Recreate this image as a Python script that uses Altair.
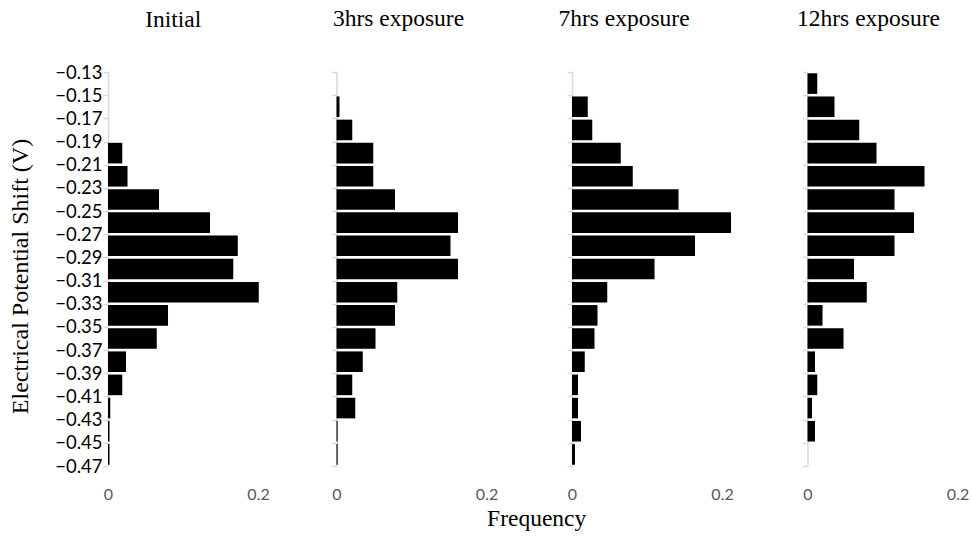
import altair as alt
import pandas as pd

# bin centres (V) of the 17 histogram classes, top to bottom
bin_mid = [-0.14, -0.16, -0.18, -0.20, -0.22, -0.24, -0.26, -0.28, -0.30,
           -0.32, -0.34, -0.36, -0.38, -0.40, -0.42, -0.44, -0.46]
# tick labels on the potential axis (class boundaries)
tick_values = [-0.13, -0.15, -0.17, -0.19, -0.21, -0.23, -0.25, -0.27, -0.29,
               -0.31, -0.33, -0.35, -0.37, -0.39, -0.41, -0.43, -0.45, -0.47]

panel_names = ["Initial", "3hrs exposure", "7hrs exposure", "12hrs exposure"]

freq_initial = [0, 0, 0, 0.019, 0.026, 0.068, 0.136, 0.173, 0.167, 0.201,
                0.080, 0.065, 0.024, 0.019, 0.003, 0.002, 0.002]
freq_3hrs = [0, 0.004, 0.021, 0.049, 0.049, 0.078, 0.162, 0.152, 0.162, 0.081,
             0.078, 0.052, 0.035, 0.021, 0.025, 0.0015, 0.0015]
freq_7hrs = [0, 0.021, 0.027, 0.065, 0.081, 0.142, 0.212, 0.164, 0.110, 0.047,
             0.034, 0.030, 0.017, 0.008, 0.008, 0.012, 0.004]
freq_12hrs = [0.013, 0.036, 0.069, 0.092, 0.156, 0.116, 0.142, 0.116, 0.062,
              0.079, 0.020, 0.048, 0.010, 0.013, 0.006, 0.010, 0]

x_ticks = [0, 0.2]

series = [freq_initial, freq_3hrs, freq_7hrs, freq_12hrs]
x_max = [0.2033, 0.2133, 0.2133, 0.2133]
widths = [152.5, 160, 160, 160]
title_dx = [-11, -18, -28, -19]
title_offset = [32, 41, 41, 41]

SERIF = "Liberation Serif"
SANS = "Lato"
GREY = "#d9d9d9"


def panel(i):
    df = pd.DataFrame({"mid": bin_mid, "freq": series[i]})
    df = df[df["freq"] > 0]
    first = i == 0
    y_axis_kw = dict(
        values=tick_values, format=".2f", grid=False,
        domainColor=GREY, domainWidth=1.5, tickColor=GREY, tickWidth=1.5,
        tickSize=5, labels=first, labelFont=SANS, labelFontSize=18.5,
        labelColor="black", labelPadding=1, labelFlush=False,
        labelOverlap=False,
    )
    if first:
        y_axis_kw.update(
            title="Electrical Potential Shift (V)", titleFont=SERIF,
            titleFontSize=24, titleFontWeight="normal", titleColor="black",
            titlePadding=22, titleY=204,
        )
    else:
        y_axis_kw.update(title=None)
    y_axis = alt.Axis(**y_axis_kw)
    x_axis = alt.Axis(
        values=x_ticks, format=".1~f", title=None, domain=False, ticks=False,
        grid=False, labelFont=SANS, labelFontSize=16, labelColor="#595959",
        labelPadding=20, labelFlush=False,
    )
    return (
        alt.Chart(df)
        .mark_bar(color="black", size=20.6, orient="horizontal")
        .encode(
            x=alt.X("freq:Q", axis=x_axis,
                    scale=alt.Scale(domain=[0, x_max[i]], nice=False, zero=True,
                                    padding=0)),
            y=alt.Y("mid:Q", axis=y_axis,
                    scale=alt.Scale(domain=[-0.47, -0.13], nice=False, zero=False,
                                    padding=0)),
        )
        .properties(
            width=widths[i], height=394,
            title=alt.TitleParams(
                panel_names[i], font=SERIF, fontSize=23.5, fontWeight="normal",
                color="black", dx=title_dx[i], frame="group",
                offset=title_offset[i], anchor="middle",
            ),
        )
    )


chart = (
    alt.hconcat(*[panel(i) for i in range(4)], spacing=75.5, bounds="flush")
    .resolve_scale(x="independent", y="independent")
    .properties(
        title=alt.TitleParams(
            "Frequency", orient="bottom", font=SERIF, fontSize=23.5,
            fontWeight="normal", color="black", anchor="middle", dx=48, offset=5,
        ),
        padding={"left": 8, "top": 6, "right": 2, "bottom": 4},
        background="white",
    )
    .configure_view(strokeWidth=0, stroke="transparent")
)

chart.save("out.html", embed_options={"renderer": "svg", "actions": False})
